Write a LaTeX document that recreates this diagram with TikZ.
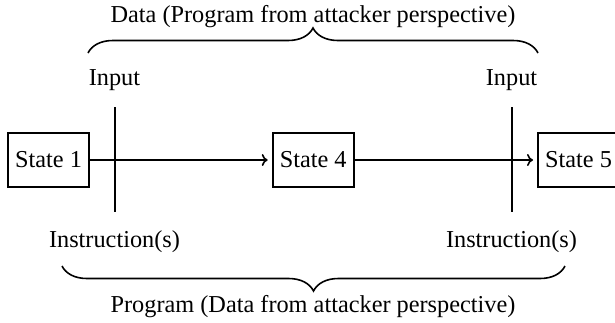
\documentclass[tikz,border=0pt]{standalone}
\usepackage{fontspec}
\setmainfont{Liberation Serif}
\usetikzlibrary{decorations.pathreplacing,arrows.meta}
\begin{document}
\begin{tikzpicture}[x=0.5pt,y=-0.5pt,
  statebox/.style={draw,line width=0.8pt,minimum width=40.5pt,minimum height=27pt,inner sep=0pt,outer sep=0pt,font=\fontsize{12.15}{14}\selectfont},
  lbl/.style={font=\fontsize{12.15}{14}\selectfont,inner sep=0pt,anchor=base},
  conn/.style={line width=0.8pt},
  flow/.style={line width=0.8pt,-{To[length=3pt,width=6pt]},shorten >=2.5pt},
  brace/.style={line width=0.8pt,decorate,decoration={brace,amplitude=12.5pt}}]
\useasboundingbox (0,0) rectangle (615,322);
% states
\node[statebox] (s1) at (48.5,160) {State 1};
\node[statebox] (s4) at (313.2,160) {State 4};
\node[statebox] (s5) at (578.5,160) {State 5};
% flows
\draw[flow] (s1) -- (s4);
\draw[flow] (s4) -- (s5);
% input / instruction lines
\coordinate (v1t) at (115,107);
\coordinate (v1b) at (115,212);
\coordinate (v2t) at (512,107);
\coordinate (v2b) at (512,212);
\draw[conn] (v1t) -- (v1b);
\draw[conn] (v2t) -- (v2b);
% labels
\node[lbl] (in1) at (114.5,85) {Input};
\node[lbl] (in2) at (511.5,85) {Input};
\node[lbl] (ins1) at (114.5,247) {Instruction(s)};
\node[lbl] (ins2) at (511.5,247) {Instruction(s)};
% braces
\coordinate (tb1) at (88,53);
\coordinate (tb2) at (538,53);
\coordinate (bb1) at (62,266);
\coordinate (bb2) at (565,266);
\draw[brace] (tb1) -- (tb2);
\draw[brace] (bb2) -- (bb1);
\node[lbl] (top) at (313,22) {Data (Program from attacker perspective)};
\node[lbl] (bot) at (313,312) {Program (Data from attacker perspective)};
\end{tikzpicture}
\end{document}
